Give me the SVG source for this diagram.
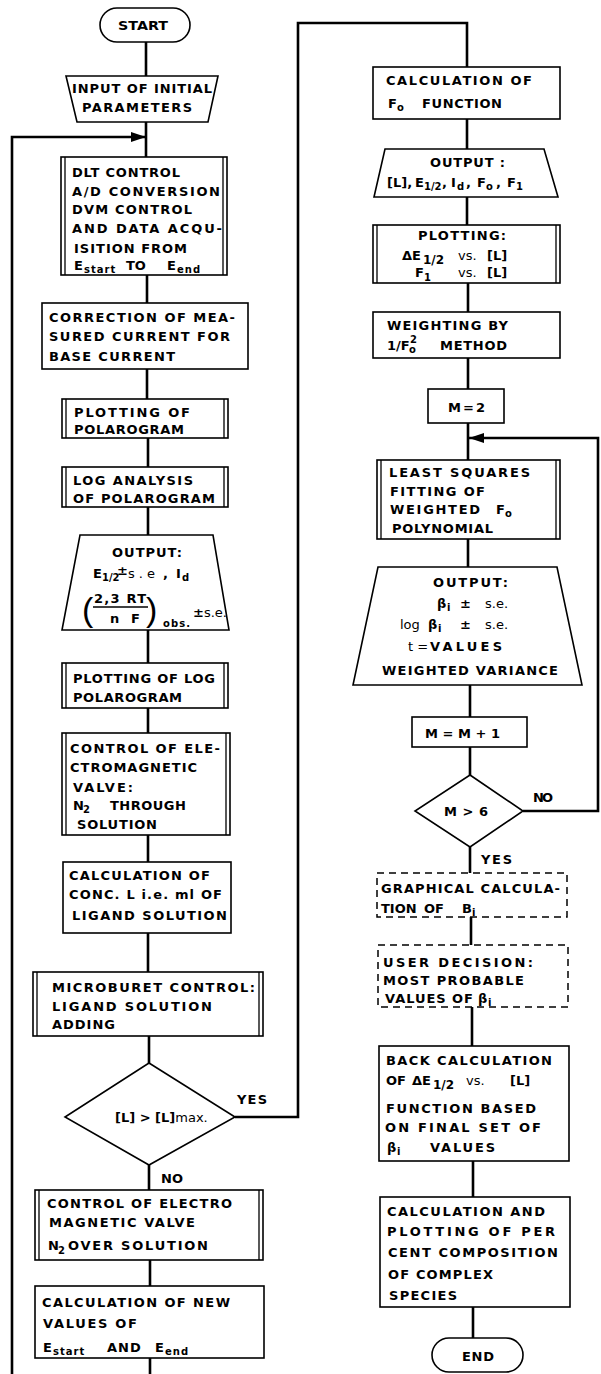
<svg xmlns="http://www.w3.org/2000/svg" width="601" height="1374" viewBox="0 0 601 1374">
<style>
.box{fill:#fff;stroke:#000;stroke-width:1.6}
.dl{fill:none;stroke:#000;stroke-width:1.3}
.dash{fill:#fff;stroke:#000;stroke-width:1.5;stroke-dasharray:7 5}
.c{fill:none;stroke:#000;stroke-width:2.6}
.t{font-family:"DejaVu Sans","Liberation Sans",Arial,sans-serif;font-size:13px;font-weight:bold;fill:#000}
.s{font-size:10px}
.n{font-weight:normal}
.p{font-family:"Liberation Sans",Arial,sans-serif;font-size:34px;font-weight:normal;fill:#000}
</style>
<defs>
<marker id="ah" markerWidth="15" markerHeight="10" refX="15" refY="5" orient="auto" markerUnits="userSpaceOnUse"><path d="M0,0 L15,5 L0,10 z" fill="#000"/></marker>
</defs>
<rect width="601" height="1374" fill="#fff"/>
<g id="connectors">
<path class="c" d="M146,42 V157"/>
<path class="c" d="M12,1374 V137 H146" marker-end="url(#ah)"/>
<path class="c" d="M147,275 V303 M147,369 V399 M148,438 V467 M148,507 V535 M148,630 V663 M148,708 V733 M148,835 V862 M148,933 V972 M149,1036 V1063"/>
<path class="c" d="M235,1117 H298 V23 H467 V67"/>
<path class="c" d="M149,1165 V1190 M150,1260 V1286 M150,1358 V1374"/>
<path class="c" d="M467,119 V149 M467,197 V225 M468,283 V312 M468,358 V389 M468,423 V460 M468,539 V567 M470,685 V717 M470,747 V775 M470,847 V873 M471,917 V945 M472,1007 V1046 M473,1161 V1197 M473,1307 V1338"/>
<path class="c" d="M523,811 H598 V438 H469" marker-end="url(#ah)"/>
</g>
<g id="start"><rect class="box" x="100" y="8" width="90" height="34" rx="17"/><text class="t" x="118" y="30" textLength="50" lengthAdjust="spacingAndGlyphs">START</text></g>
<g id="input"><polygon class="box" points="66,76 218,76 208,122 77,122"/>
<text class="t" x="72" y="93" textLength="140" lengthAdjust="spacing">INPUT OF INITIAL</text>
<text class="t" x="82" y="112" textLength="110" lengthAdjust="spacing">PARAMETERS</text></g>
<g id="dlt"><rect class="box" x="61" y="157" width="166" height="118"/><path class="dl" d="M65,157 V275 M223,157 V275"/>
<text class="t" x="72" y="177" textLength="108" lengthAdjust="spacing">DLT CONTROL</text>
<text class="t" x="72" y="196" textLength="148" lengthAdjust="spacing">A/D CONVERSION</text>
<text class="t" x="72" y="214" textLength="120" lengthAdjust="spacing">DVM CONTROL</text>
<text class="t" x="72" y="233" textLength="150" lengthAdjust="spacing">AND DATA ACQU-</text>
<text class="t" x="74" y="253" textLength="113" lengthAdjust="spacing">ISITION FROM</text>
<text class="t" y="270"><tspan x="74">E</tspan><tspan x="84" y="273" class="s" style="letter-spacing:1px">start</tspan><tspan x="126" y="270">TO</tspan><tspan x="167">E</tspan><tspan x="177" y="273" class="s" style="letter-spacing:1px">end</tspan></text></g>
<g id="correction"><rect class="box" x="42" y="303" width="206" height="66"/>
<text class="t" x="49" y="322" textLength="186" lengthAdjust="spacing">CORRECTION OF MEA-</text>
<text class="t" x="49" y="341" textLength="181" lengthAdjust="spacing">SURED CURRENT FOR</text>
<text class="t" x="49" y="361" textLength="126" lengthAdjust="spacing">BASE CURRENT</text></g>
<g id="plot-polarogram"><rect class="box" x="62" y="399" width="166" height="39"/><path class="dl" d="M66,399 V438 M224,399 V438"/>
<text class="t" x="74" y="417" textLength="116" lengthAdjust="spacing">PLOTTING OF</text>
<text class="t" x="74" y="434" textLength="110" lengthAdjust="spacing">POLAROGRAM</text></g>
<g id="log-analysis"><rect class="box" x="62" y="467" width="166" height="40"/><path class="dl" d="M66,467 V507 M224,467 V507"/>
<text class="t" x="73" y="485" textLength="120" lengthAdjust="spacing">LOG ANALYSIS</text>
<text class="t" x="73" y="503" textLength="142" lengthAdjust="spacing">OF POLAROGRAM</text></g>
<g id="output1"><polygon class="box" points="80,535 213,535 229,630 62,630"/>
<text class="t" x="112" y="557" textLength="70" lengthAdjust="spacing">OUTPUT:</text>
<text class="t" y="578"><tspan x="93">E</tspan><tspan x="102" y="581" class="s">1/2</tspan><tspan x="117" y="575">±</tspan><tspan x="128" y="578" class="n" textLength="27" lengthAdjust="spacing">s.e</tspan><tspan x="163">,</tspan><tspan x="176">I</tspan><tspan x="182" y="581" class="s">d</tspan></text>
<text class="p" x="82" y="621">(</text><text class="p" x="146" y="621">)</text>
<line x1="93" y1="607" x2="148" y2="607" stroke="#000" stroke-width="1.6"/>
<text class="t" x="94" y="603" textLength="52" lengthAdjust="spacing">2,3 RT</text>
<text class="t" x="110" y="623" textLength="30" lengthAdjust="spacing">nF</text>
<text class="t s" x="163" y="627" textLength="27" lengthAdjust="spacing">obs.</text>
<text class="t" x="193" y="617">±<tspan class="n">s.e.</tspan></text></g>
<g id="plot-log"><rect class="box" x="62" y="663" width="166" height="45"/><path class="dl" d="M66,663 V708 M224,663 V708"/>
<text class="t" x="73" y="683" textLength="142" lengthAdjust="spacing">PLOTTING OF LOG</text>
<text class="t" x="73" y="702" textLength="109" lengthAdjust="spacing">POLAROGRAM</text></g>
<g id="valve1"><rect class="box" x="62" y="733" width="168" height="102"/><path class="dl" d="M66,733 V835 M226,733 V835"/>
<text class="t" x="70" y="753" textLength="150" lengthAdjust="spacing">CONTROL OF ELE-</text>
<text class="t" x="70" y="772" textLength="127" lengthAdjust="spacing">CTROMAGNETIC</text>
<text class="t" x="73" y="792" textLength="60" lengthAdjust="spacing">VALVE:</text>
<text class="t" y="810"><tspan x="73">N</tspan><tspan x="83" y="813" class="s">2</tspan><tspan x="110" y="810" style="letter-spacing:0.5px">THROUGH</tspan></text>
<text class="t" x="77" y="829" textLength="80" lengthAdjust="spacing">SOLUTION</text></g>
<g id="calc-conc"><rect class="box" x="63" y="862" width="168" height="71"/>
<text class="t" x="69" y="880" textLength="141" lengthAdjust="spacing">CALCULATION OF</text>
<text class="t" x="69" y="899" textLength="153" lengthAdjust="spacing">CONC. L i.e. ml OF</text>
<text class="t" x="72" y="920" textLength="155" lengthAdjust="spacing">LIGAND SOLUTION</text></g>
<g id="microburet"><rect class="box" x="33" y="972" width="230" height="64"/><path class="dl" d="M37,972 V1036 M259,972 V1036"/>
<text class="t" x="52" y="992" textLength="203" lengthAdjust="spacing">MICROBURET CONTROL:</text>
<text class="t" x="52" y="1011" textLength="160" lengthAdjust="spacing">LIGAND SOLUTION</text>
<text class="t" x="52" y="1029" textLength="63" lengthAdjust="spacing">ADDING</text></g>
<g id="decision1"><polygon class="box" points="149,1063 235,1117 149,1165 65,1117"/>
<text class="t" x="115" y="1122">[L] &gt; [L]<tspan class="n">max.</tspan></text>
<text class="t" x="237" y="1104" textLength="30" lengthAdjust="spacing">YES</text>
<text class="t" x="161" y="1183" textLength="22" lengthAdjust="spacing">NO</text></g>
<g id="valve2"><rect class="box" x="35" y="1190" width="228" height="70"/><path class="dl" d="M39,1190 V1260 M259,1190 V1260"/>
<text class="t" x="47" y="1208" textLength="185" lengthAdjust="spacing">CONTROL OF ELECTRO</text>
<text class="t" x="49" y="1227" textLength="146" lengthAdjust="spacing">MAGNETIC VALVE</text>
<text class="t" y="1250"><tspan x="48">N</tspan><tspan x="58" y="1254" class="s">2</tspan><tspan x="68" y="1250" textLength="140" lengthAdjust="spacing">OVER SOLUTION</tspan></text></g>
<g id="calc-new"><rect class="box" x="35" y="1286" width="229" height="72"/>
<text class="t" x="42" y="1307" textLength="188" lengthAdjust="spacing">CALCULATION OF NEW</text>
<text class="t" x="43" y="1328" textLength="94" lengthAdjust="spacing">VALUES OF</text>
<text class="t" y="1352"><tspan x="43">E</tspan><tspan x="53" y="1355" class="s" style="letter-spacing:1px">start</tspan><tspan x="107" y="1352" style="letter-spacing:1px">AND</tspan><tspan x="155">E</tspan><tspan x="165" y="1355" class="s" style="letter-spacing:1px">end</tspan></text></g>
<g id="calc-f0"><rect class="box" x="373" y="67" width="187" height="52"/>
<text class="t" x="386" y="85" textLength="146" lengthAdjust="spacing">CALCULATION OF</text>
<text class="t" y="108"><tspan x="388">F</tspan><tspan x="397" y="111" class="s">o</tspan><tspan x="422" y="108" textLength="80" lengthAdjust="spacing">FUNCTION</tspan></text></g>
<g id="output2"><polygon class="box" points="385,149 544,149 558,197 374,197"/>
<text class="t" x="430" y="167" textLength="75" lengthAdjust="spacing">OUTPUT :</text>
<text class="t" y="187"><tspan x="387">[L],</tspan><tspan x="415">E</tspan><tspan x="424" y="190" class="s">1/2</tspan><tspan x="442" y="187">,</tspan><tspan x="451">I</tspan><tspan x="457" y="190" class="s">d</tspan><tspan x="466" y="187">,</tspan><tspan x="477">F</tspan><tspan x="486" y="190" class="s">o</tspan><tspan x="496" y="187">,</tspan><tspan x="507">F</tspan><tspan x="516" y="190" class="s">1</tspan></text></g>
<g id="plotting"><rect class="box" x="373" y="225" width="187" height="58"/><path class="dl" d="M377,225 V283 M556,225 V283"/>
<text class="t" x="418" y="240" textLength="88" lengthAdjust="spacing">PLOTTING:</text>
<text class="t" y="260"><tspan x="402">ΔE</tspan><tspan x="423" y="264" class="s" style="font-size:12px">1/2</tspan><tspan x="458" y="260" class="n">vs.</tspan><tspan x="487">[L]</tspan></text>
<text class="t" y="277"><tspan x="415">F</tspan><tspan x="424" y="281" class="s">1</tspan><tspan x="458" y="277" class="n">vs.</tspan><tspan x="487">[L]</tspan></text></g>
<g id="weighting"><rect class="box" x="373" y="312" width="187" height="46"/>
<text class="t" x="387" y="330" textLength="121" lengthAdjust="spacing">WEIGHTING BY</text>
<text class="t" y="350"><tspan x="387">1/F</tspan><tspan x="409" y="353" class="s">o</tspan><tspan x="410" y="343" class="s">2</tspan><tspan x="440" y="350" textLength="67" lengthAdjust="spacing">METHOD</tspan></text></g>
<g id="m2"><rect class="box" x="428" y="389" width="76" height="34"/>
<text class="t" x="448" y="412" textLength="37" lengthAdjust="spacing">M = 2</text></g>
<g id="least-squares"><rect class="box" x="377" y="460" width="183" height="79"/><path class="dl" d="M381,460 V539 M556,460 V539"/>
<text class="t" x="389" y="477" textLength="141" lengthAdjust="spacing">LEAST SQUARES</text>
<text class="t" x="390" y="496" textLength="95" lengthAdjust="spacing">FITTING OF</text>
<text class="t" y="514"><tspan x="390" textLength="90" lengthAdjust="spacing">WEIGHTED</tspan><tspan x="496">F</tspan><tspan x="505" y="517" class="s">o</tspan></text>
<text class="t" x="392" y="533" textLength="101" lengthAdjust="spacing">POLYNOMIAL</text></g>
<g id="output3"><polygon class="box" points="378,567 557,567 582,685 353,685"/>
<text class="t" x="433" y="587" textLength="75" lengthAdjust="spacing">OUTPUT:</text>
<text class="t" y="608"><tspan x="437">β</tspan><tspan x="447" y="611" class="s">i</tspan><tspan x="460" y="608">±</tspan><tspan x="485" class="n">s.e.</tspan></text>
<text class="t" y="629"><tspan x="400" class="n">log</tspan><tspan x="428">β</tspan><tspan x="438" y="632" class="s">i</tspan><tspan x="460" y="629">±</tspan><tspan x="485" class="n">s.e.</tspan></text>
<text class="t" y="651"><tspan x="408" class="n">t =</tspan><tspan x="430" textLength="72" lengthAdjust="spacing">VALUES</tspan></text>
<text class="t" x="382" y="675" textLength="176" lengthAdjust="spacing">WEIGHTED VARIANCE</text></g>
<g id="m-inc"><rect class="box" x="412" y="717" width="115" height="30"/>
<text class="t" x="425" y="738" textLength="75" lengthAdjust="spacing">M = M + 1</text></g>
<g id="decision2"><polygon class="box" points="470,775 523,811 470,847 415,811"/>
<text class="t" x="444" y="816" textLength="44" lengthAdjust="spacing">M &gt; 6</text>
<text class="t" x="533" y="802" textLength="20" lengthAdjust="spacing">NO</text>
<text class="t" x="481" y="864" textLength="31" lengthAdjust="spacing">YES</text></g>
<g id="graphical"><rect class="dash" x="377" y="873" width="190" height="44"/>
<text class="t" x="381" y="893" textLength="179" lengthAdjust="spacing">GRAPHICAL CALCULA-</text>
<text class="t" y="913"><tspan x="381">TION</tspan><tspan x="424">OF</tspan><tspan x="462">B</tspan><tspan x="472" y="916" class="s">i</tspan></text></g>
<g id="user-decision"><rect class="dash" x="378" y="945" width="190" height="62"/>
<text class="t" x="383" y="967" textLength="150" lengthAdjust="spacing">USER DECISION:</text>
<text class="t" x="383" y="985" textLength="141" lengthAdjust="spacing">MOST PROBABLE</text>
<text class="t" y="1003"><tspan x="385" textLength="88" lengthAdjust="spacing">VALUES OF</tspan><tspan x="478">β</tspan><tspan x="488" y="1006" class="s">i</tspan></text></g>
<g id="back-calc"><rect class="box" x="379" y="1046" width="190" height="115"/>
<text class="t" x="386" y="1065" textLength="166" lengthAdjust="spacing">BACK CALCULATION</text>
<text class="t" y="1085"><tspan x="386">OF</tspan><tspan x="412">ΔE</tspan><tspan x="433" y="1089" class="s" style="font-size:12px">1/2</tspan><tspan x="466" y="1085" class="n">vs.</tspan><tspan x="510">[L]</tspan></text>
<text class="t" x="386" y="1113" textLength="150" lengthAdjust="spacing">FUNCTION BASED</text>
<text class="t" x="385" y="1132" textLength="156" lengthAdjust="spacing">ON FINAL SET OF</text>
<text class="t" y="1152"><tspan x="387">β</tspan><tspan x="397" y="1155" class="s">i</tspan><tspan x="430" y="1152" textLength="65" lengthAdjust="spacing">VALUES</tspan></text></g>
<g id="percent"><rect class="box" x="380" y="1197" width="190" height="110"/>
<text class="t" x="387" y="1216" textLength="158" lengthAdjust="spacing">CALCULATION AND</text>
<text class="t" x="387" y="1236" textLength="168" lengthAdjust="spacing">PLOTTING OF PER</text>
<text class="t" x="388" y="1257" textLength="170" lengthAdjust="spacing">CENT COMPOSITION</text>
<text class="t" x="388" y="1279" textLength="105" lengthAdjust="spacing">OF COMPLEX</text>
<text class="t" x="389" y="1300" textLength="68" lengthAdjust="spacing">SPECIES</text></g>
<g id="end"><rect class="box" x="432" y="1338" width="91" height="34" rx="17"/>
<text class="t" x="462" y="1361" textLength="32" lengthAdjust="spacing">END</text></g>
</svg>
